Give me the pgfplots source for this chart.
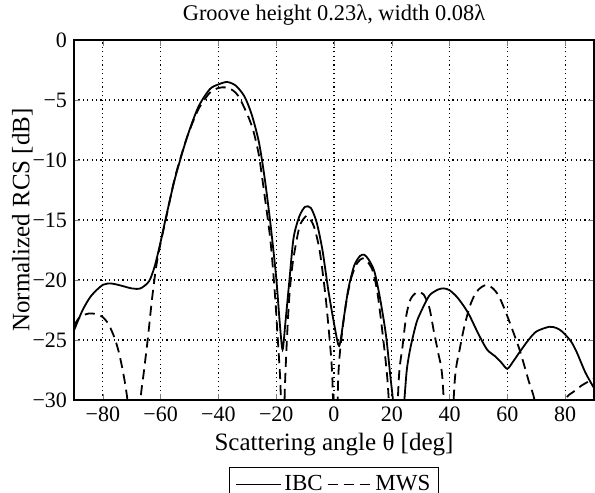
\documentclass[border=0pt]{standalone}
\usepackage{fontspec}
\setmainfont{Liberation Serif}
\usepackage{pgfplots}
\pgfplotsset{compat=1.18}

\begin{document}
\begin{tikzpicture}
\begin{axis}[
  at={(0,0)}, anchor=south west,
  width=260pt, height=180pt, scale only axis,
  xmin=-90, xmax=90, ymin=-30, ymax=0,
  xtick={-80,-60,...,80}, ytick={-30,-25,...,0},
  xticklabels={−80,−60,−40,−20,0,20,40,60,80},
  yticklabels={−30,−25,−20,−15,−10,−5,0},
  tick align=inside, xtick pos=both, ytick pos=both,
  major tick length=3pt,
  grid=major, major grid style={black, dash pattern=on 0.6pt off 1.6pt, line width=0.55pt},
  axis line style={line width=0.6pt},
  tick label style={font=\fontsize{11}{13}\selectfont},
  label style={font=\fontsize{12.5}{14}\selectfont},
  title style={font=\fontsize{11.2}{13}\selectfont, yshift=-2pt},
  title={Groove height 0.23λ, width 0.08λ},
  xlabel={Scattering angle θ [deg]},
  ylabel={Normalized RCS [dB]},
  xlabel style={yshift=1.5pt},
  ylabel style={yshift=-7pt},
  legend columns=2,
  legend style={at={(0.5,-0.186)}, anchor=north, draw=black, line width=0.5pt,
    font=\fontsize{11.5}{13}\selectfont, inner xsep=3pt, inner ysep=2pt,
    nodes={inner xsep=1pt},
    /tikz/every even column/.append style={column sep=1pt}},
  legend image code/.code={\draw[#1] (0pt,0pt) -- (22.5pt,0pt);},
  clip=true,
]
\addplot[black, line width=0.9pt, smooth, tension=0.45] coordinates {
(-90,-24.2) (-87,-22.5) (-84,-21.3) (-80,-20.4) (-77,-20.3) (-74,-20.45) (-70,-20.7)
(-67,-20.7) (-64,-20.1) (-62,-18.8) (-60,-16.8) (-58,-14.6) (-55,-11.5) (-51,-8.2)
(-47,-5.6) (-43,-4.1) (-40,-3.7) (-37,-3.5) (-34,-3.8) (-31,-4.7) (-28.5,-6.2)
(-26,-8.5) (-24,-11.5) (-22,-15.3) (-20,-19.8) (-18.8,-23.5) (-17.8,-25.8)
(-16.8,-23.5) (-15.5,-20.2) (-14,-16.5) (-12,-14.7) (-10,-13.9) (-8,-14)
(-6,-15.2) (-4,-17.5) (-2,-20.8) (0,-23.6) (1.8,-25.5) (3.5,-23) (5,-20.7)
(7,-18.8) (9,-18) (10.5,-17.9) (12,-18.3) (14,-19.3) (16,-21.6) (18,-24.6)
(19.5,-28) (20.6,-30.5) (22.3,-36) (24.2,-30.5) (25.2,-27.5) (26.5,-25.6)
(28.5,-23.6) (30,-22.7) (33,-21.3) (36,-20.8) (38,-20.7) (40,-20.85) (42.5,-21.4)
(45,-22.2) (47,-23) (50,-24.5) (53,-25.8) (56,-26.4) (58,-26.9) (60,-27.4)
(62,-26.8) (64,-26.1) (67,-25.1) (70,-24.3) (74.5,-23.9) (77,-24) (79,-24.3)
(82,-25.1) (84,-26) (87,-27.7) (90,-29)
};
\addlegendentry{IBC}
\addplot[black, line width=0.9pt, dash pattern=on 5pt off 3pt, smooth, tension=0.45] coordinates {
(-90,-23.8) (-88,-23.1) (-85,-22.8) (-82,-22.85) (-80,-23.1) (-78,-23.7) (-76,-24.8)
(-74.5,-26) (-73,-27.7) (-71.5,-30) (-69,-36) (-67,-30) (-66,-28) (-64.5,-25)
(-63,-21.6) (-61.5,-18.8) (-60,-16.9) (-58,-14.7) (-55,-11.4) (-51,-8.2) (-47,-5.8)
(-43,-4.4) (-40,-4.0) (-37.5,-3.95) (-35,-4.2) (-33,-4.7) (-30,-6.2) (-28,-7.5)
(-26,-9.6) (-24,-13) (-22,-16.7) (-20.5,-21) (-19.3,-25.5) (-18.5,-29) (-17.8,-36)
(-17,-29) (-16.3,-25) (-15.5,-21.5) (-14.3,-18.6) (-12,-15.6) (-10,-14.75) (-9,-14.7)
(-7,-15.5) (-5,-17.5) (-3,-21.2) (-1.5,-25) (-0.6,-28) (0.5,-36) (1.5,-28)
(2.5,-25) (4.2,-21.9) (6,-19.8) (8,-18.6) (10,-18.2) (12,-18.6) (13.5,-19.3)
(15,-21) (16.5,-23.8) (18.5,-28.3) (20.7,-36) (22.5,-28) (23.7,-25.6) (25,-23)
(26.5,-21.6) (28.8,-21) (31,-21.2) (33,-22.3) (34.5,-24.2) (36,-26) (37.5,-28.1)
(39.7,-36) (41.9,-28.1) (43.5,-25.8) (45,-24) (47,-22.2) (49,-21.1) (51,-20.6)
(53,-20.4) (55,-20.7) (57,-21.3) (59.5,-22.7) (62,-24.3) (64.5,-26) (67.5,-28.5)
(69.4,-30) (72,-34) (75,-40) (78.5,-33) (80.2,-30) (83,-29.3) (86,-28.75) (90,-28.2)
};
\addlegendentry{MWS}
\end{axis}
\pgfresetboundingbox
\path[use as bounding box] (-37pt,-46.5pt) rectangle (260.5pt,200pt);
\end{tikzpicture}
\end{document}
